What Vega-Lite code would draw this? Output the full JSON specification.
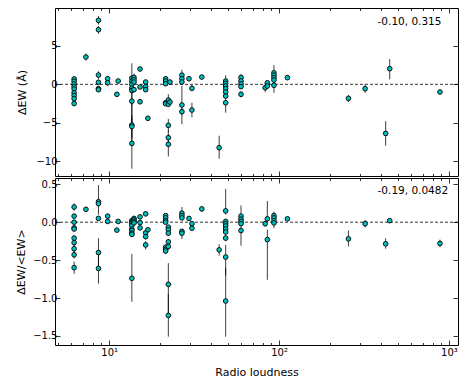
{
  "$schema": "https://vega.github.io/schema/vega-lite/v6.json",
  "padding": {"top": 7, "left": 15, "right": 0, "bottom": 0},
  "spacing": 0,
  "config": {
    "font": "DejaVu Sans",
    "view": {"stroke": "black", "strokeWidth": 1},
    "axis": {"labelFont": "DejaVu Sans", "labelFontSize": 10, "titleFont": "DejaVu Sans", "titleFontSize": 11, "titleFontWeight": "normal", "labelColor": "black", "titleColor": "black", "tickColor": "black", "tickWidth": 0.8, "domain": false, "grid": false}
  },
  "datasets": {
    "top": [
      {"x":6.22,"y":0.7,"lo":0.4,"hi":1.0},{"x":6.22,"y":0.4,"lo":0.2,"hi":0.6},{"x":6.22,"y":0.05,"lo":-0.2,"hi":0.3},{"x":6.22,"y":-0.3,"lo":-0.5,"hi":-0.1},{"x":6.22,"y":-0.6,"lo":-0.8,"hi":-0.4},{"x":6.22,"y":-1.1,"lo":-1.3,"hi":-0.9},{"x":6.22,"y":-1.45,"lo":-1.7,"hi":-1.2},{"x":6.22,"y":-1.85,"lo":-2.1,"hi":-1.6},{"x":6.22,"y":-2.5,"lo":-2.8,"hi":-2.2},
      {"x":7.3,"y":3.56,"lo":3.1,"hi":4.0},
      {"x":8.65,"y":8.34,"lo":7.8,"hi":8.9},{"x":8.65,"y":7.12,"lo":6.6,"hi":7.6},{"x":8.65,"y":1.21,"lo":0.7,"hi":1.7},{"x":8.65,"y":0.26,"lo":-0.1,"hi":0.6},{"x":8.65,"y":-0.57,"lo":-0.9,"hi":-0.3},{"x":8.65,"y":-0.7,"lo":-1.0,"hi":-0.4},
      {"x":9.8,"y":0.73,"lo":0.3,"hi":1.1},{"x":9.8,"y":0.21,"lo":-0.2,"hi":0.6},
      {"x":11.3,"y":0.43,"lo":0.2,"hi":0.7},{"x":11.1,"y":-1.3,"lo":-1.6,"hi":-1.0},
      {"x":13.6,"y":0.8,"lo":0.5,"hi":1.1},{"x":13.6,"y":0.4,"lo":0.1,"hi":0.7},{"x":13.6,"y":0.0,"lo":-2.7,"hi":2.74},{"x":13.6,"y":-0.5,"lo":-0.8,"hi":-0.2},{"x":13.6,"y":-0.8,"lo":-1.1,"hi":-0.5},{"x":13.6,"y":-2.2,"lo":-4.9,"hi":0.5},{"x":13.6,"y":-5.3,"lo":-8.0,"hi":-2.6},{"x":13.6,"y":-5.5,"lo":-7.0,"hi":-4.0},{"x":13.6,"y":-7.7,"lo":-11.0,"hi":-4.4},
      {"x":14.0,"y":0.9,"lo":0.4,"hi":1.4},{"x":14.0,"y":0.6,"lo":0.3,"hi":0.9},{"x":14.0,"y":0.3,"lo":0.0,"hi":0.6},{"x":14.0,"y":-0.7,"lo":-1.0,"hi":-0.4},
      {"x":15.2,"y":2.0,"lo":1.7,"hi":2.3},{"x":15.2,"y":-0.35,"lo":-0.6,"hi":-0.1},{"x":15.2,"y":-2.27,"lo":-2.6,"hi":-1.9},
      {"x":16.4,"y":0.3,"lo":0.0,"hi":0.6},{"x":16.4,"y":-0.3,"lo":-0.6,"hi":0.0},{"x":16.4,"y":-0.7,"lo":-1.0,"hi":-0.4},
      {"x":16.9,"y":-4.43,"lo":-4.7,"hi":-4.2},
      {"x":21.5,"y":0.73,"lo":0.4,"hi":1.0},{"x":21.5,"y":0.43,"lo":0.2,"hi":0.7},{"x":21.5,"y":0.08,"lo":-0.2,"hi":0.3},{"x":21.5,"y":-2.4,"lo":-2.7,"hi":-2.1},{"x":21.5,"y":-2.53,"lo":-2.8,"hi":-2.2},
      {"x":22.3,"y":-2.05,"lo":-2.8,"hi":-1.3},{"x":22.3,"y":-2.6,"lo":-2.9,"hi":-2.3},{"x":22.3,"y":-5.35,"lo":-6.2,"hi":-4.5},{"x":22.3,"y":-6.96,"lo":-8.0,"hi":-6.0},{"x":22.3,"y":-7.82,"lo":-9.4,"hi":-6.5},
      {"x":22.8,"y":0.3,"lo":0.0,"hi":0.6},{"x":22.8,"y":-2.3,"lo":-2.6,"hi":-2.0},
      {"x":26.8,"y":1.2,"lo":0.9,"hi":1.9},{"x":26.8,"y":0.73,"lo":0.4,"hi":1.0},{"x":26.8,"y":0.3,"lo":0.0,"hi":0.6},{"x":26.8,"y":-2.7,"lo":-5.2,"hi":-0.2},{"x":26.8,"y":-3.57,"lo":-4.0,"hi":-3.1},
      {"x":29.5,"y":0.73,"lo":0.4,"hi":1.1},
      {"x":30.7,"y":-0.52,"lo":-0.9,"hi":-0.1},{"x":30.7,"y":-3.35,"lo":-4.3,"hi":-2.4},
      {"x":35.1,"y":0.95,"lo":0.7,"hi":1.2},
      {"x":44.4,"y":-8.26,"lo":-9.7,"hi":-6.7},
      {"x":48.5,"y":0.43,"lo":0.0,"hi":1.17},{"x":48.5,"y":0.13,"lo":-0.1,"hi":0.4},{"x":48.5,"y":-0.22,"lo":-0.5,"hi":0.1},{"x":48.5,"y":-0.57,"lo":-0.9,"hi":-0.3},{"x":48.5,"y":-1.0,"lo":-1.3,"hi":-0.7},{"x":48.5,"y":-1.53,"lo":-1.8,"hi":-1.2},{"x":48.5,"y":-2.4,"lo":-3.7,"hi":-1.1},
      {"x":59.7,"y":0.9,"lo":0.5,"hi":1.3},{"x":59.7,"y":0.45,"lo":0.2,"hi":0.7},{"x":59.7,"y":0.05,"lo":-0.2,"hi":0.3},{"x":59.7,"y":-0.3,"lo":-0.6,"hi":0.0},{"x":59.7,"y":-1.3,"lo":-1.7,"hi":-0.9},
      {"x":82.8,"y":-0.44,"lo":-1.0,"hi":0.1},
      {"x":85.3,"y":0.2,"lo":-0.1,"hi":0.5},{"x":85.3,"y":-0.22,"lo":-0.5,"hi":0.1},
      {"x":93.3,"y":1.5,"lo":1.0,"hi":2.5},{"x":93.3,"y":1.2,"lo":0.9,"hi":1.5},{"x":93.3,"y":0.87,"lo":0.6,"hi":1.2},{"x":93.3,"y":0.56,"lo":0.3,"hi":0.9},{"x":93.3,"y":-0.13,"lo":-1.1,"hi":0.3},
      {"x":112,"y":0.87,"lo":0.6,"hi":1.2},
      {"x":256,"y":-1.83,"lo":-2.3,"hi":-1.4},
      {"x":321,"y":-0.57,"lo":-1.1,"hi":0.0},
      {"x":424,"y":-6.4,"lo":-8.0,"hi":-4.8},
      {"x":448,"y":2.04,"lo":0.65,"hi":3.3},
      {"x":885,"y":-1.0,"lo":-1.2,"hi":-0.8}
    ],
    "bottom": [
      {"x":6.22,"y":0.2,"lo":0.15,"hi":0.25},{"x":6.22,"y":0.08,"lo":0.05,"hi":0.11},{"x":6.22,"y":0.0,"lo":-0.03,"hi":0.03},{"x":6.22,"y":-0.075,"lo":-0.1,"hi":-0.05},{"x":6.22,"y":-0.09,"lo":-0.12,"hi":-0.06},{"x":6.22,"y":-0.21,"lo":-0.25,"hi":-0.17},{"x":6.22,"y":-0.27,"lo":-0.31,"hi":-0.23},{"x":6.22,"y":-0.35,"lo":-0.4,"hi":-0.3},{"x":6.22,"y":-0.43,"lo":-0.48,"hi":-0.38},{"x":6.22,"y":-0.6,"lo":-0.68,"hi":-0.52},
      {"x":7.3,"y":0.17,"lo":0.14,"hi":0.2},
      {"x":8.65,"y":0.27,"lo":0.1,"hi":0.49},{"x":8.65,"y":0.245,"lo":0.21,"hi":0.28},{"x":8.65,"y":0.05,"lo":0.02,"hi":0.08},{"x":8.65,"y":-0.4,"lo":-0.62,"hi":-0.21},{"x":8.65,"y":-0.61,"lo":-0.81,"hi":-0.41},
      {"x":9.8,"y":0.08,"lo":0.05,"hi":0.11},{"x":9.8,"y":0.01,"lo":-0.02,"hi":0.04},
      {"x":11.3,"y":0.01,"lo":-0.01,"hi":0.03},{"x":11.1,"y":-0.105,"lo":-0.13,"hi":-0.08},
      {"x":13.6,"y":0.02,"lo":0.0,"hi":0.04},{"x":13.6,"y":0.0,"lo":-0.02,"hi":0.02},{"x":13.6,"y":-0.02,"lo":-0.04,"hi":0.0},{"x":13.6,"y":-0.045,"lo":-0.07,"hi":-0.02},{"x":13.6,"y":-0.09,"lo":-0.12,"hi":-0.06},{"x":13.6,"y":-0.11,"lo":-0.14,"hi":-0.08},{"x":13.6,"y":-0.145,"lo":-0.18,"hi":-0.11},{"x":13.6,"y":-0.16,"lo":-0.2,"hi":-0.12},{"x":13.6,"y":-0.74,"lo":-1.05,"hi":-0.42},
      {"x":14.0,"y":0.05,"lo":0.03,"hi":0.07},{"x":14.0,"y":0.03,"lo":0.01,"hi":0.05},{"x":14.0,"y":0.01,"lo":-0.01,"hi":0.03},{"x":14.0,"y":-0.01,"lo":-0.03,"hi":0.01},
      {"x":15.2,"y":0.07,"lo":0.05,"hi":0.09},{"x":15.2,"y":-0.005,"lo":-0.03,"hi":0.02},{"x":15.2,"y":-0.075,"lo":-0.1,"hi":-0.05},
      {"x":16.4,"y":0.11,"lo":0.08,"hi":0.14},{"x":16.4,"y":-0.14,"lo":-0.17,"hi":-0.11},{"x":16.4,"y":-0.19,"lo":-0.23,"hi":-0.15},{"x":16.4,"y":-0.3,"lo":-0.36,"hi":-0.25},
      {"x":16.9,"y":-0.1,"lo":-0.12,"hi":-0.08},
      {"x":21.5,"y":0.087,"lo":0.06,"hi":0.11},{"x":21.5,"y":0.057,"lo":0.03,"hi":0.08},{"x":21.5,"y":0.02,"lo":0.0,"hi":0.04},{"x":21.5,"y":0.0,"lo":-0.02,"hi":0.02},{"x":21.5,"y":-0.33,"lo":-0.36,"hi":-0.3},{"x":21.5,"y":-0.36,"lo":-0.39,"hi":-0.33},{"x":21.5,"y":-0.38,"lo":-0.42,"hi":-0.35},
      {"x":22.3,"y":-0.066,"lo":-0.09,"hi":-0.04},{"x":22.3,"y":-0.1,"lo":-0.13,"hi":-0.07},{"x":22.3,"y":-0.145,"lo":-0.18,"hi":-0.11},{"x":22.3,"y":-0.26,"lo":-0.3,"hi":-0.22},{"x":22.3,"y":-0.32,"lo":-0.36,"hi":-0.28},{"x":22.3,"y":-0.82,"lo":-1.2,"hi":-0.54},{"x":22.3,"y":-1.23,"lo":-1.51,"hi":-0.95},
      {"x":26.8,"y":0.12,"lo":0.08,"hi":0.2},{"x":26.8,"y":0.087,"lo":0.06,"hi":0.11},{"x":26.8,"y":0.057,"lo":0.03,"hi":0.08},{"x":26.8,"y":-0.12,"lo":-0.15,"hi":-0.09},{"x":26.8,"y":-0.145,"lo":-0.22,"hi":-0.11},
      {"x":29.5,"y":0.05,"lo":0.02,"hi":0.08},
      {"x":30.7,"y":-0.02,"lo":-0.05,"hi":0.01},{"x":30.7,"y":-0.08,"lo":-0.11,"hi":-0.05},
      {"x":35.1,"y":0.175,"lo":0.14,"hi":0.21},
      {"x":44.4,"y":-0.365,"lo":-0.44,"hi":-0.29},
      {"x":48.5,"y":0.15,"lo":0.1,"hi":0.44},{"x":48.5,"y":0.01,"lo":-0.02,"hi":0.04},{"x":48.5,"y":-0.02,"lo":-0.05,"hi":0.01},{"x":48.5,"y":-0.05,"lo":-0.08,"hi":-0.02},{"x":48.5,"y":-0.09,"lo":-0.12,"hi":-0.06},{"x":48.5,"y":-0.13,"lo":-0.16,"hi":-0.1},{"x":48.5,"y":-0.21,"lo":-0.25,"hi":-0.17},{"x":48.5,"y":-0.46,"lo":-0.7,"hi":-0.3},{"x":48.5,"y":-1.04,"lo":-1.51,"hi":-0.6},
      {"x":59.7,"y":0.08,"lo":0.05,"hi":0.22},{"x":59.7,"y":0.04,"lo":0.01,"hi":0.07},{"x":59.7,"y":0.01,"lo":-0.02,"hi":0.04},{"x":59.7,"y":-0.02,"lo":-0.05,"hi":0.01},{"x":59.7,"y":-0.11,"lo":-0.31,"hi":-0.05},
      {"x":82.8,"y":-0.02,"lo":-0.06,"hi":0.02},
      {"x":85.3,"y":0.045,"lo":0.0,"hi":0.28},{"x":85.3,"y":-0.23,"lo":-0.76,"hi":-0.1},
      {"x":93.3,"y":0.087,"lo":0.06,"hi":0.14},{"x":93.3,"y":0.057,"lo":0.03,"hi":0.08},{"x":93.3,"y":0.02,"lo":0.0,"hi":0.04},{"x":93.3,"y":-0.01,"lo":-0.08,"hi":0.01},
      {"x":112,"y":0.045,"lo":0.02,"hi":0.07},
      {"x":256,"y":-0.22,"lo":-0.32,"hi":-0.11},
      {"x":321,"y":-0.02,"lo":-0.07,"hi":0.03},
      {"x":424,"y":-0.285,"lo":-0.35,"hi":-0.21},
      {"x":448,"y":0.02,"lo":0.0,"hi":0.04},
      {"x":885,"y":-0.28,"lo":-0.33,"hi":-0.23}
    ],
    "notes": [
      {"panel":"top","x":380,"y":8.1,"label":"-0.10, 0.315"},
      {"panel":"bottom","x":380,"y":0.415,"label":"-0.19, 0.0482"}
    ]
  },
  "vconcat": [
    {
      "width": 403, "height": 168,
      "resolve": {"axis": {"x": "independent", "y": "independent"}},
      "layer": [
        {
          "data": {"name": "top"},
          "mark": {"type": "rule", "color": "black", "strokeWidth": 0.9, "opacity": 0.85},
          "encoding": {
            "x": {"field": "x", "type": "quantitative", "scale": {"type": "log", "domain": [4.8, 1130], "nice": false}, "axis": {"orient": "bottom", "values": [10, 100, 1000], "tickSize": -5, "labels": false, "title": null}},
            "y": {"field": "lo", "type": "quantitative", "scale": {"domain": [-11.95, 9.95], "nice": false, "zero": false}, "axis": {"orient": "left", "values": [-10, -5, 0, 5], "tickSize": -5, "labelPadding": 3, "title": "ΔEW (Å)", "titlePadding": 8}},
            "y2": {"field": "hi"}
          }
        },
        {
          "data": {"values": [{}]},
          "mark": {"type": "rule", "color": "black", "strokeWidth": 0.8, "strokeDash": [3, 2]},
          "encoding": {
            "x": {"datum": 4.8, "type": "quantitative", "axis": {"orient": "top", "values": [5,6,7,8,9,20,30,40,50,60,70,80,90,200,300,400,500,600,700,800,900], "tickSize": -2.5, "labels": false, "title": null}},
            "x2": {"datum": 1130},
            "y": {"datum": 0, "type": "quantitative", "axis": {"orient": "right", "values": [-10, -5, 0, 5], "tickSize": -5, "labels": false, "title": null}}
          }
        },
        {
          "data": {"name": "top"},
          "mark": {"type": "point", "shape": "circle", "filled": true, "fill": "#00BFBF", "stroke": "black", "strokeWidth": 0.9, "size": 22, "opacity": 1},
          "encoding": {
            "x": {"field": "x", "type": "quantitative", "axis": {"orient": "bottom", "values": [5,6,7,8,9,20,30,40,50,60,70,80,90,200,300,400,500,600,700,800,900], "tickSize": -2.5, "labels": false, "title": null}},
            "y": {"field": "y", "type": "quantitative", "axis": null}
          }
        },
        {
          "data": {"name": "notes"},
          "transform": [{"filter": "datum.panel == 'top'"}],
          "mark": {"type": "text", "align": "left", "baseline": "middle", "fontSize": 10.5, "font": "DejaVu Sans", "color": "black"},
          "encoding": {
            "x": {"field": "x", "type": "quantitative", "axis": {"orient": "top", "values": [10, 100, 1000], "tickSize": -5, "labels": false, "title": null}},
            "y": {"field": "y", "type": "quantitative", "axis": null},
            "text": {"field": "label"}
          }
        }
      ]
    },
    {
      "width": 403, "height": 167,
      "resolve": {"axis": {"x": "independent", "y": "independent"}},
      "layer": [
        {
          "data": {"name": "bottom"},
          "mark": {"type": "rule", "color": "black", "strokeWidth": 0.9, "opacity": 0.85},
          "encoding": {
            "x": {"field": "x", "type": "quantitative", "scale": {"type": "log", "domain": [4.8, 1130], "nice": false}, "axis": {"orient": "bottom", "values": [10, 100, 1000], "tickSize": -5, "labelPadding": 7, "labelExpr": "datum.value == 10 ? '10¹' : datum.value == 100 ? '10²' : '10³'", "title": "Radio loudness", "titlePadding": 9}},
            "y": {"field": "lo", "type": "quantitative", "scale": {"domain": [-1.62, 0.583], "nice": false, "zero": false}, "axis": {"orient": "left", "values": [-1.5, -1.0, -0.5, 0.0, 0.5], "format": ".1f", "tickSize": -5, "labelPadding": 3, "title": "ΔEW/<EW>", "titlePadding": 6}},
            "y2": {"field": "hi"}
          }
        },
        {
          "data": {"values": [{}]},
          "mark": {"type": "rule", "color": "black", "strokeWidth": 0.8, "strokeDash": [3, 2]},
          "encoding": {
            "x": {"datum": 4.8, "type": "quantitative", "axis": {"orient": "top", "values": [5,6,7,8,9,20,30,40,50,60,70,80,90,200,300,400,500,600,700,800,900], "tickSize": -2.5, "labels": false, "title": null}},
            "x2": {"datum": 1130},
            "y": {"datum": 0, "type": "quantitative", "axis": {"orient": "right", "values": [-1.5, -1.0, -0.5, 0.0, 0.5], "tickSize": -5, "labels": false, "title": null}}
          }
        },
        {
          "data": {"name": "bottom"},
          "mark": {"type": "point", "shape": "circle", "filled": true, "fill": "#00BFBF", "stroke": "black", "strokeWidth": 0.9, "size": 22, "opacity": 1},
          "encoding": {
            "x": {"field": "x", "type": "quantitative", "axis": {"orient": "bottom", "values": [5,6,7,8,9,20,30,40,50,60,70,80,90,200,300,400,500,600,700,800,900], "tickSize": -2.5, "labels": false, "title": null}},
            "y": {"field": "y", "type": "quantitative", "axis": null}
          }
        },
        {
          "data": {"name": "notes"},
          "transform": [{"filter": "datum.panel == 'bottom'"}],
          "mark": {"type": "text", "align": "left", "baseline": "middle", "fontSize": 10.5, "font": "DejaVu Sans", "color": "black"},
          "encoding": {
            "x": {"field": "x", "type": "quantitative", "axis": {"orient": "top", "values": [10, 100, 1000], "tickSize": -5, "labels": false, "title": null}},
            "y": {"field": "y", "type": "quantitative", "axis": null},
            "text": {"field": "label"}
          }
        }
      ]
    }
  ]
}
